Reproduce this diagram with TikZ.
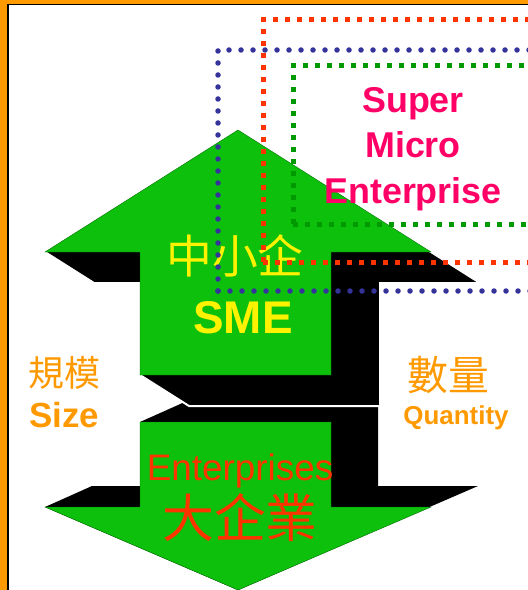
\documentclass[tikz,border=0pt]{standalone}
\usepackage{fontspec}
\setmainfont{Liberation Sans}
\newfontfamily\cjk{Noto Sans CJK TC}
\definecolor{frameorange}{HTML}{FF9900}
\definecolor{smegreen}{RGB}{12,192,12}
\definecolor{superpink}{HTML}{FF0066}
\definecolor{bigred}{HTML}{FF3300}
\definecolor{dotblue}{HTML}{333399}
\definecolor{dotgreen}{HTML}{009900}
\tikzset{
	arrowface/.style = {fill = smegreen, draw = smegreen!60!black, line width = .4bp},
	arrowshade/.style = {fill = black},
	rounddots/.style = {line width = 5.5bp, line cap = round, dash pattern = on 0bp off 12bp},
	squaredots/.style = {line width = 5bp, dash pattern = on 5bp off 7bp},
	plaintext/.style = {inner sep = 0pt, outer sep = 0pt}
}
\newcommand{\txtsize}[1]{\fontsize{#1}{#1}\selectfont}
\begin{document}
\begin{tikzpicture}[x = 1bp, y = -1bp]
	\useasboundingbox (0, 0) rectangle (528, 590);
	\begin{scope}
	\clip (0, 0) rectangle (528, 590);
	% frame
	\fill [frameorange] (0, 0) rectangle (528, 590);
	\fill [white] (8.2, 4.3) rectangle (540, 600);
	\draw [line width = 1.5bp] (8.2, 600) -- (8.2, 4.3) -- (540, 4.3);
	% big enterprises, down
	\fill [arrowshade] (238, 590) -- (478, 486) -- (378, 486) -- (378, 401) -- (187, 401) -- (140, 422)
		-- (140, 486) -- (92, 486) -- (45, 507) -- cycle;
	\draw [arrowface] (140, 422) -- (331, 422) -- (331, 507) -- (431, 507) -- (238, 590)
		-- (45, 507) -- (140, 507) -- cycle;
	% sme, up
	\draw [arrowshade, draw = white, line width = 2bp] (238, 130) -- (480, 283) -- (380, 283) -- (380, 406)
		-- (189, 406) -- (140, 375) -- (140, 283) -- (94, 283) -- (45, 252) -- cycle;
	\draw [arrowface] (238, 130) -- (431, 252) -- (331, 252) -- (331, 375) -- (140, 375)
		-- (140, 252) -- (45, 252) -- cycle;
	% texts
	\foreach \word/\y in {Super/113, Micro/158, Enterprise/203}
		\node (\word) [plaintext, anchor = base, text = superpink, font = \bfseries\txtsize{36}] at (413, \y) {\word};
	\node (sme-zh) [plaintext, text = yellow, font = \cjk\txtsize{46}] at (235, 256) {中小企};
	\node (sme-en) [plaintext, anchor = base, text = yellow, font = \bfseries\txtsize{46}] at (243, 333) {SME};
	\node (size-zh) [plaintext, text = frameorange, font = \cjk\txtsize{36}] at (64, 373) {規模};
	\node (size-en) [plaintext, anchor = base, text = frameorange, font = \bfseries\txtsize{35}] at (64, 427) {Size};
	\node (qty-zh) [plaintext, text = frameorange, font = \cjk\txtsize{41}] at (448, 375) {數量};
	\node (qty-en) [plaintext, anchor = base, text = frameorange, font = \bfseries\txtsize{26}] at (456, 424) {Quantity};
	\node (big-en) [plaintext, anchor = base, text = bigred, font = \txtsize{37}] at (240, 480) {Enterprises};
	\node (big-zh) [plaintext, text = bigred, font = \cjk\txtsize{52}] at (240, 518) {大企業};
	% dotted frames
	\draw [rounddots, dotblue] (218, 291) -- (218, 50) -- (540, 50);
	\draw [rounddots, dotblue] (218, 291) -- (540, 291);
	\draw [squaredots, bigred] (263, 262) -- (263, 20) -- (540, 20);
	\draw [squaredots, bigred] (263, 262) -- (540, 262);
	\draw [squaredots, dotgreen] (293, 224) -- (293, 66) -- (540, 66);
	\draw [squaredots, dotgreen] (293, 224) -- (540, 224);
	\end{scope}
\end{tikzpicture}
\end{document}
